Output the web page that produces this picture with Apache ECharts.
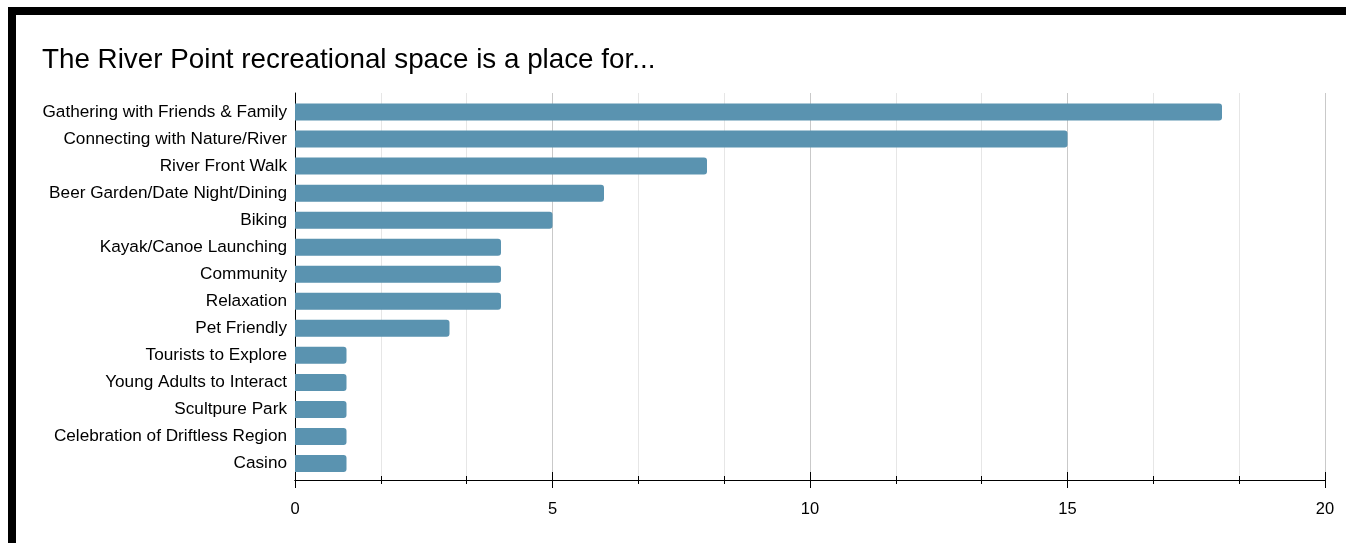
<!DOCTYPE html>
<html>
<head>
<meta charset="utf-8">
<script src="https://cdn.jsdelivr.net/npm/echarts@6/dist/echarts.min.js"></script>
<style>
  html, body { margin: 0; padding: 0; background: #fff; }
  #wrap { position: relative; width: 1346px; height: 543px; overflow: hidden; background: #fff; }
  #frame { position: absolute; left: 8px; top: 7px; right: -10px; bottom: -10px;
           border-top: 8px solid #000; border-left: 8px solid #000; box-sizing: border-box; }
  #chart { position: absolute; left: 0; top: 0; width: 1346px; height: 543px; }
</style>
</head>
<body>
<div id="wrap">
  <div id="frame"></div>
  <div id="chart"></div>
</div>
<script>
const titleText = 'The River Point recreational space is a place for...';
const categories = [
  'Gathering with Friends & Family',
  'Connecting with Nature/River',
  'River Front Walk',
  'Beer Garden/Date Night/Dining',
  'Biking',
  'Kayak/Canoe Launching',
  'Community',
  'Relaxation',
  'Pet Friendly',
  'Tourists to Explore',
  'Young Adults to Interact',
  'Scultpure Park',
  'Celebration of Driftless Region',
  'Casino'
];
const values = [18, 15, 8, 6, 5, 4, 4, 4, 3, 1, 1, 1, 1, 1];
const xMin = 0, xMax = 20, xInterval = 5, xMinorSplit = 3;

const FONT = 'Liberation Sans, Arial, sans-serif';
const chart = echarts.init(document.getElementById('chart'), null, { renderer: 'canvas' });

const baseX = {
  type: 'value', gridIndex: 0, min: xMin, max: xMax, interval: xInterval, position: 'bottom',
  axisLine: { show: true, lineStyle: { color: '#000', width: 1 } }
};

chart.setOption({
  backgroundColor: 'transparent',
  animation: false,
  title: {
    text: titleText, left: 37, top: 41,
    textStyle: { fontFamily: FONT, fontSize: 27.8, fontWeight: 'normal', color: '#000' }
  },
  grid: [
    { left: 295, width: 1030, top: 93, height: 387 },
    { left: 295, width: 1030, top: 98.5, height: 378.5 }
  ],
  xAxis: [
    Object.assign({}, baseX, {
      axisTick: { show: true, length: 8, lineStyle: { color: '#000' } },
      minorTick: { show: true, splitNumber: xMinorSplit, length: 4, lineStyle: { color: '#000' } },
      splitLine: { show: true, lineStyle: { color: '#c9c9c9', width: 1 } },
      minorSplitLine: { show: true, lineStyle: { color: '#e6e6e6', width: 1 } },
      axisLabel: { show: true, margin: 21, color: '#000', fontFamily: FONT, fontSize: 16.5 }
    }),
    Object.assign({}, baseX, {
      axisTick: { show: true, inside: true, length: 8, lineStyle: { color: '#000' } },
      minorTick: { show: true, splitNumber: xMinorSplit, length: 4, lineStyle: { color: '#000' } },
      splitLine: { show: false },
      axisLabel: { show: false }
    }),
    { type: 'value', gridIndex: 1, min: xMin, max: xMax, show: false }
  ],
  yAxis: [
    { type: 'value', gridIndex: 0, axisLine: { show: true, lineStyle: { color: '#000', width: 1 } },
      axisTick: { show: false }, axisLabel: { show: false }, splitLine: { show: false } },
    { type: 'category', gridIndex: 1, inverse: true, data: categories,
      axisLine: { show: false }, axisTick: { show: false }, splitLine: { show: false },
      axisLabel: { margin: 8, color: '#000', fontFamily: FONT, fontSize: 17.2 } }
  ],
  series: [{
    type: 'bar', xAxisIndex: 2, yAxisIndex: 1, data: values, barWidth: 17,
    itemStyle: { color: '#5a93b0', borderRadius: [0, 3, 3, 0] }
  }]
});
</script>
</body>
</html>
